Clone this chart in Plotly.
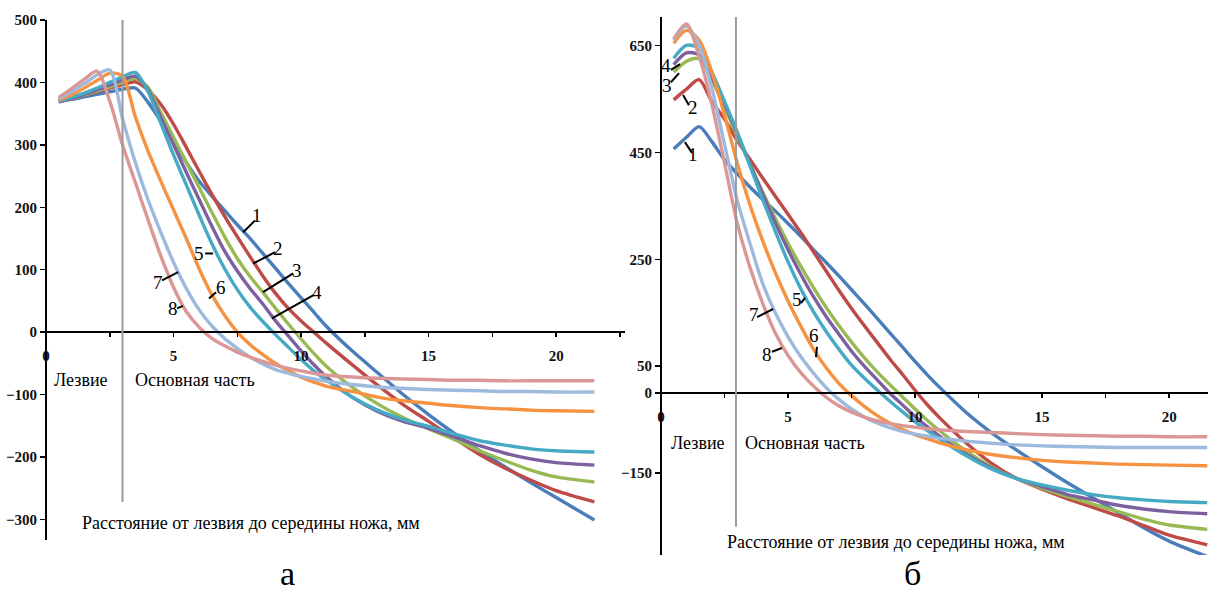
import plotly.graph_objects as go

# ---------------- data ----------------
X_A = [0.5, 1, 1.5, 2, 2.5, 3, 3.5, 4, 4.5, 5, 5.5, 6, 6.5, 7, 7.5, 8, 8.5, 9, 9.5, 10,
       10.5, 11, 12, 13, 14, 15, 16, 17, 18, 19, 20, 21.5]
A1 = [370, 373, 377, 381, 385, 389, 391, 368, 338, 305, 272, 242, 218, 195, 172, 150, 126, 102, 78, 55,
      32, 9, -30, -65, -100, -132, -162, -190, -216, -241, -265, -301]
A2 = [370, 375, 380, 385, 391, 396, 401, 388, 365, 333, 296, 258, 221, 186, 153, 121, 90, 62, 38, 18,
      0, -18, -52, -85, -116, -143, -170, -196, -218, -237, -254, -272]
A3 = [369, 374, 380, 386, 393, 400, 406, 392, 352, 312, 272, 232, 192, 153, 118, 89, 64, 38, 13, -11,
      -34, -55, -88, -115, -137, -155, -172, -190, -206, -221, -232, -240]
A4 = [369, 374, 381, 388, 396, 404, 410, 388, 344, 300, 256, 213, 170, 130, 98, 70, 45, 18, -6, -30,
      -52, -72, -104, -127, -143, -154, -168, -182, -194, -203, -209, -213]
A5 = [370, 376, 383, 391, 400, 409, 416, 385, 335, 284, 236, 188, 142, 102, 68, 40, 17, -4, -24, -44,
      -62, -77, -104, -125, -140, -151, -163, -174, -181, -187, -190, -192]
A6 = [372, 380, 391, 403, 415, 410, 345, 290, 242, 196, 150, 102, 60, 27, 0, -20, -36, -50, -62, -72,
      -80, -87, -95, -104, -110, -114, -118, -121, -123, -125, -126, -127]
A7 = [374, 385, 398, 412, 420, 342, 272, 212, 160, 112, 70, 36, 10, -10, -26, -40, -51, -60, -66, -71,
      -75, -79, -84, -88, -90, -92, -93, -94, -95, -95, -96, -96]
A8 = [376, 390, 405, 418, 370, 300, 240, 180, 122, 72, 33, 8, -10, -22, -32, -40, -47, -53, -58, -62,
      -66, -69, -72, -74, -75, -76, -77, -77, -78, -78, -78, -78]

X_B = [0.5, 1, 1.5, 2, 2.5, 3, 3.5, 4, 4.5, 5, 5.5, 6, 6.5, 7, 7.5, 8, 8.5, 9, 9.5, 10,
       10.5, 11, 12, 13, 14, 15, 16, 17, 18, 19, 20, 21.5]
B1 = [456, 478, 498, 470, 436, 410, 385, 362, 340, 317, 293, 268, 244, 219, 193, 167, 140, 113, 86, 59,
      33, 9, -36, -74, -107, -138, -168, -196, -224, -252, -277, -306]
B2 = [548, 568, 586, 545, 512, 472, 437, 402, 368, 334, 300, 264, 228, 192, 158, 126, 95, 64, 35, 5,
      -23, -48, -93, -131, -160, -180, -198, -214, -230, -248, -266, -284]
B3 = [600, 620, 625, 585, 535, 480, 428, 376, 326, 280, 237, 197, 160, 126, 95, 66, 40, 16, -7, -30,
      -52, -72, -108, -138, -160, -178, -194, -208, -222, -236, -247, -255]
B4 = [614, 636, 632, 590, 540, 485, 428, 372, 318, 268, 222, 180, 143, 110, 78, 50, 25, 0, -22, -44,
      -64, -82, -114, -140, -160, -175, -190, -200, -210, -217, -222, -226]
B5 = [626, 650, 645, 600, 545, 488, 425, 362, 302, 245, 195, 152, 115, 82, 52, 28, 6, -15, -35, -54,
      -71, -87, -117, -142, -160, -172, -182, -190, -196, -200, -203, -205]
B6 = [654, 678, 660, 600, 520, 430, 352, 285, 225, 172, 125, 82, 47, 18, -5, -25, -42, -56, -68, -78,
      -86, -94, -106, -115, -121, -126, -129, -131, -133, -134, -135, -136]
B7 = [660, 686, 650, 570, 465, 360, 280, 205, 150, 105, 68, 37, 10, -12, -30, -45, -56, -65, -72, -77,
      -81, -85, -90, -94, -97, -99, -100, -101, -102, -102, -102, -102]
B8 = [662, 690, 630, 540, 430, 318, 235, 168, 112, 70, 38, 13, -8, -24, -36, -45, -52, -57, -61, -64,
      -67, -69, -72, -74, -76, -78, -79, -80, -81, -81, -82, -82]

SERIES_NAMES = ["1", "2", "3", "4", "5", "6", "7", "8"]
COLORS = ["#4A7EBB", "#BE4B48", "#98B954", "#7D60A0", "#46AAC5", "#F69240", "#9DB9DE", "#DB9795"]

A_TICKS = [-300, -200, -100, 0, 100, 200, 300, 400, 500]
B_TICKS = [-150, 0, 50, 250, 450, 650]
X_TICKS = [0, 2.5, 5, 7.5, 10, 12.5, 15, 17.5, 20, 22.5]
X_TICKTEXT = ["0", "", "5", "", "10", "", "15", "", "20", ""]

AXIS_TITLE = "Расстояние от лезвия до середины ножа, мм"
ZONE_1 = "Лезвие"
ZONE_2 = "Основная часть"

# label positions: (text x, text y, leader x0, y0, x1, y1)
LABELS_A = [(8.27, 187, 8.20, 179, 7.73, 160), (9.10, 134, 8.98, 128, 8.12, 110),
            (9.84, 99, 9.69, 94, 8.51, 64), (10.63, 64, 10.47, 59, 8.86, 22),
            (6.00, 126, 6.24, 126, 6.55, 126), (6.86, 72, 6.67, 64, 6.39, 54),
            (4.39, 80, 4.55, 83, 5.18, 96), (4.98, 38, 5.14, 38, 5.37, 42)]
LABELS_B = [(1.26, 445, 0.94, 469, 1.22, 449), (1.26, 533, 0.87, 557, 1.10, 538),
            (0.24, 574, 0.39, 581, 0.71, 598), (0.20, 613, 0.39, 604, 0.75, 615),
            (5.35, 174, 5.51, 168, 5.67, 178), (6.02, 108, 6.14, 86, 6.10, 67),
            (3.66, 146, 3.78, 142, 4.41, 157), (4.17, 71, 4.37, 77, 4.76, 84)]

# ---------------- figure ----------------
W, H = 1208, 594
FONT = "Liberation Serif"
fig = go.Figure()

for ys, name, col in zip([A1, A2, A3, A4, A5, A6, A7, A8], SERIES_NAMES, COLORS):
    fig.add_trace(go.Scatter(x=X_A, y=ys, mode="lines", name=name, xaxis="x", yaxis="y",
                             line=dict(color=col, width=3.4, shape="spline", smoothing=0.8),
                             showlegend=False, hoverinfo="skip"))
for ys, name, col in zip([B1, B2, B3, B4, B5, B6, B7, B8], SERIES_NAMES, COLORS):
    fig.add_trace(go.Scatter(x=X_B, y=ys, mode="lines", name=name, xaxis="x2", yaxis="y2",
                             line=dict(color=col, width=3.4, shape="spline", smoothing=0.8),
                             showlegend=False, hoverinfo="skip"))

# pixel-based geometry of the two panels
A_X0, A_X1 = 46, 625
A_Y0, A_Y1 = 20, 540
A_ZERO = 332
B_X0, B_X1 = 661, 1208
B_Y0, B_Y1 = 17, 555
B_ZERO = 393

tickfont = dict(family=FONT, size=15, color="#111", weight="bold")
common_x = dict(showgrid=False, zeroline=False, showline=True, linecolor="black", linewidth=2,
                ticks="outside", ticklen=4, tickwidth=1.5, tickcolor="black",
                tickvals=X_TICKS, ticktext=X_TICKTEXT, tickfont=tickfont, ticklabelstandoff=6,
                automargin=False, fixedrange=True)
common_y = dict(showgrid=False, zeroline=False, showline=True, linecolor="black", linewidth=2,
                ticks="outside", ticklen=5, tickwidth=1.5, tickcolor="black", tickfont=tickfont,
                automargin=False, fixedrange=True)

fig.update_layout(
    width=W, height=H, margin=dict(l=0, r=0, t=0, b=0, pad=0, autoexpand=False),
    paper_bgcolor="white", plot_bgcolor="white",
    font=dict(family=FONT, color="black"),
    xaxis=dict(common_x, domain=[A_X0 / W, A_X1 / W], range=[0, 22.7],
               anchor="free", position=(H - A_ZERO) / H),
    yaxis=dict(common_y, domain=[(H - A_Y1) / H, (H - A_Y0) / H], range=[-333, 500],
               anchor="free", position=A_X0 / W, tickvals=A_TICKS),
    xaxis2=dict(common_x, domain=[B_X0 / W, B_X1 / W], range=[0, 21.53],
                anchor="free", position=(H - B_ZERO) / H),
    yaxis2=dict(common_y, domain=[(H - B_Y1) / H, (H - B_Y0) / H], range=[-303, 703],
                anchor="free", position=B_X0 / W, tickvals=B_TICKS),
)

shapes = []
# vertical dividing lines between blade and main part
shapes.append(dict(type="line", xref="x", yref="y", x0=3, x1=3, y0=-272, y1=500,
                   line=dict(color="#9a9a9a", width=2)))
shapes.append(dict(type="line", xref="x2", yref="y2", x0=2.95, x1=2.95, y0=-250, y1=703,
                   line=dict(color="#9a9a9a", width=2)))

annotations = []
for (tx, ty, x0, y0, x1, y1), name in zip(LABELS_A, SERIES_NAMES):
    shapes.append(dict(type="line", xref="x", yref="y", x0=x0, y0=y0, x1=x1, y1=y1,
                       line=dict(color="black", width=2)))
    annotations.append(dict(x=tx, y=ty, xref="x", yref="y", text=name, showarrow=False,
                            font=dict(family=FONT, size=19, color="black")))
for (tx, ty, x0, y0, x1, y1), name in zip(LABELS_B, SERIES_NAMES):
    shapes.append(dict(type="line", xref="x2", yref="y2", x0=x0, y0=y0, x1=x1, y1=y1,
                       line=dict(color="black", width=2)))
    annotations.append(dict(x=tx, y=ty, xref="x2", yref="y2", text=name, showarrow=False,
                            font=dict(family=FONT, size=19, color="black")))

txtfont = dict(family=FONT, size=18, color="black")
annotations += [
    dict(x=1.37, y=-77, xref="x", yref="y", text=ZONE_1, showarrow=False, font=txtfont),
    dict(x=5.84, y=-77, xref="x", yref="y", text=ZONE_2, showarrow=False, font=txtfont),
    dict(x=8.04, y=-306, xref="x", yref="y", text=AXIS_TITLE, showarrow=False, font=txtfont),
    dict(x=1.46, y=-93, xref="x2", yref="y2", text=ZONE_1, showarrow=False, font=txtfont),
    dict(x=5.67, y=-93, xref="x2", yref="y2", text=ZONE_2, showarrow=False, font=txtfont),
    dict(x=9.25, y=-278, xref="x2", yref="y2", text=AXIS_TITLE, showarrow=False, font=txtfont),
    dict(x=287 / W, y=(H - 573) / H, xref="paper", yref="paper", text="а", showarrow=False,
         xanchor="center", yanchor="middle", borderpad=0,
         font=dict(family=FONT, size=34, color="black")),
    dict(x=913 / W, y=(H - 573) / H, xref="paper", yref="paper", text="б", showarrow=False,
         xanchor="center", yanchor="middle", borderpad=0,
         font=dict(family=FONT, size=34, color="black")),
]

fig.update_layout(shapes=shapes, annotations=annotations)
fig.write_html("out.html", config={"displayModeBar": False, "staticPlot": True},
               post_script="document.body.style.margin='0';document.body.style.overflow='hidden';")
